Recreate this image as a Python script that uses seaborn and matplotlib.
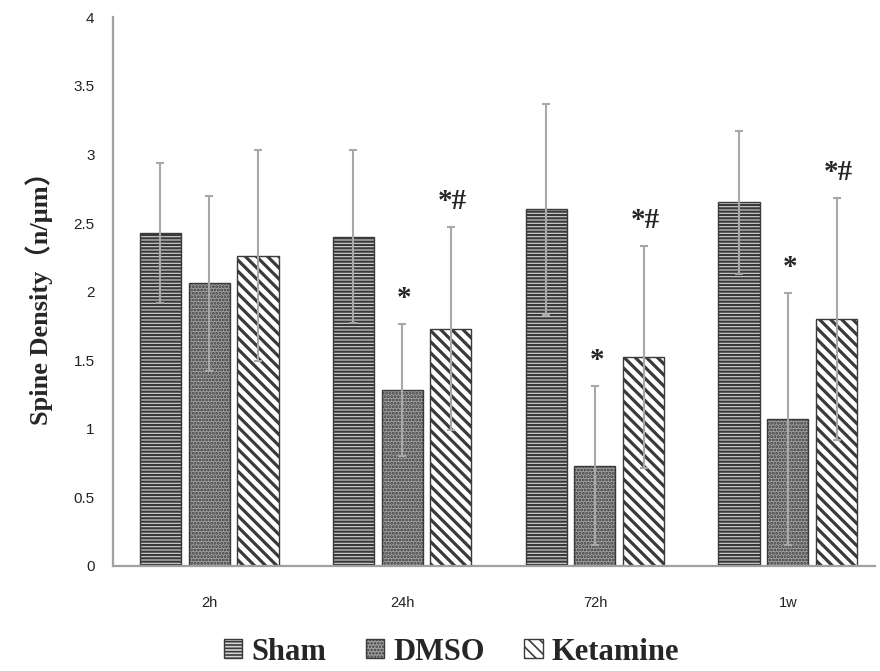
import pandas as pd
import seaborn as sns
import matplotlib.pyplot as plt

# values
times = ['2h', '24h', '72h', '1w']
groups = ['Sham', 'DMSO', 'Ketamine']
sham_mean = [2.43, 2.40, 2.60, 2.65]
sham_sd = [0.51, 0.63, 0.77, 0.52]
dmso_mean = [2.06, 1.28, 0.73, 1.07]
dmso_sd = [0.64, 0.48, 0.58, 0.92]
ket_mean = [2.26, 1.73, 1.52, 1.80]
ket_sd = [0.77, 0.74, 0.81, 0.88]
dmso_marks = ['', '*', '*', '*']
ket_marks = ['', '*#', '*#', '*#']
ytick_vals = [0, 0.5, 1, 1.5, 2, 2.5, 3, 3.5, 4]
ytick_labels = ['0', '0.5', '1', '1.5', '2', '2.5', '3', '3.5', '4']

means = [sham_mean, dmso_mean, ket_mean]
sds = [sham_sd, dmso_sd, ket_sd]
marks = [None, dmso_marks, ket_marks]

rows = []
for g, m in zip(groups, means):
    for t, v in zip(times, m):
        rows.append({'time': t, 'group': g, 'density': v})
df = pd.DataFrame(rows)

sns.set_style('white')
plt.rcParams['hatch.linewidth'] = 1.2
serif = ['Liberation Serif', 'Noto Sans CJK SC']

fig = plt.figure(figsize=(8.8, 6.71), dpi=100)
ax = fig.add_axes([0.128, 0.157, 0.866, 0.817])

face = {'Sham': '#d4d4d4', 'DMSO': '#a0a0a0', 'Ketamine': '#ffffff'}
sns.barplot(data=df, x='time', y='density', hue='group', order=times,
            hue_order=groups, palette=face, errorbar=None, width=0.76,
            gap=0.16, edgecolor='#3a3a3a', linewidth=1.0, legend=False, ax=ax)

hatches = ['-----', '.....', '\\\\\\']
hatch_lw = [1.6, 1.4, 2.3]
for cont, h, hw, m, s, mk in zip(ax.containers, hatches, hatch_lw, means, sds, marks):
    xs = []
    for p in cont.patches:
        p.set_hatch(h)
        if hasattr(p, 'set_hatch_linewidth'):
            p.set_hatch_linewidth(hw)
        xs.append(p.get_x() + p.get_width() / 2)
    ax.errorbar(xs, m, yerr=s, fmt='none', ecolor='#a8a8a8', elinewidth=1.5,
                capsize=3, capthick=1.5, zorder=3)
    if mk:
        for x, v, e, t in zip(xs, m, s, mk):
            if t:
                ax.text(x + 0.01, v + e + 0.09, t, ha='center', va='bottom',
                        fontsize=21, fontweight='bold', family=serif)

ax.set_ylim(0, 4)
ax.set_xlim(-0.5, 3.45)
ax.set_yticks(ytick_vals)
ax.set_yticklabels(ytick_labels)
ax.tick_params(axis='y', length=0, pad=13, labelsize=11, labelcolor='#222222')
ax.tick_params(axis='x', length=0, pad=22, labelsize=10.5, labelcolor='#222222')
for lab in ax.get_xticklabels() + ax.get_yticklabels():
    lab.set_family('Liberation Sans')
ax.set_xlabel('')
ax.set_ylabel('Spine Density（n/μm）', fontsize=19, fontweight='bold',
              family=serif, labelpad=15)

sns.despine(ax=ax)
for side in ['left', 'bottom']:
    ax.spines[side].set_color('#a0a0a0')
    ax.spines[side].set_linewidth(1.6)

fig.legend(handles=list(ax.containers), labels=groups, loc='center',
           bbox_to_anchor=(0.513, 1 - 652 / 671), ncol=3, frameon=False,
           prop={'family': serif, 'weight': 'bold', 'size': 22},
           handlelength=0.6, handleheight=0.6, handletextpad=0.3,
           columnspacing=1.3)

fig.savefig('out.png', dpi=100)
